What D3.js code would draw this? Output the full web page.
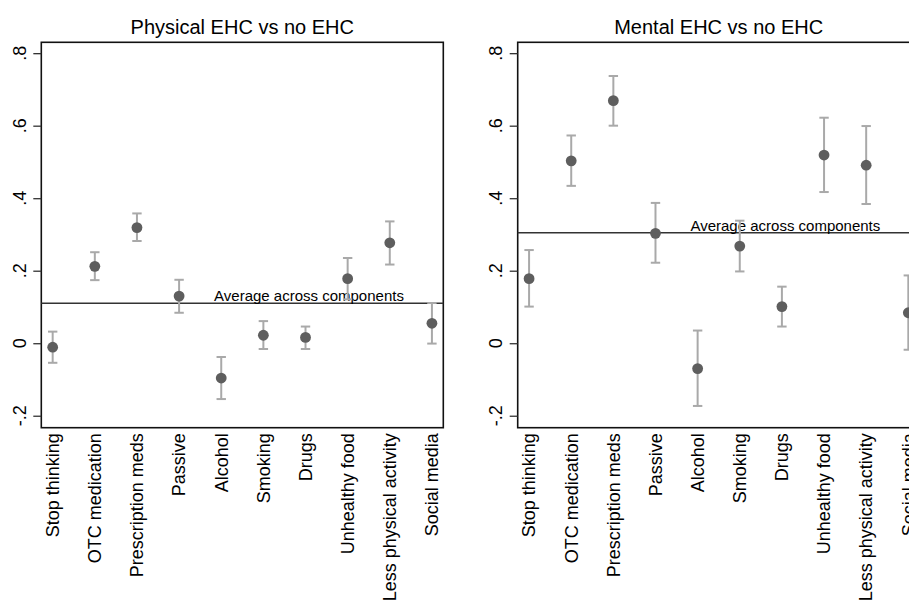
<!DOCTYPE html>
<html>
<head>
<meta charset="utf-8">
<script src="https://cdn.jsdelivr.net/npm/d3@7"></script>
<style>
  html, body { margin: 0; padding: 0; background: #fff; }
  svg { display: block; font-family: "Liberation Sans", Arial, Helvetica, sans-serif; }
</style>
</head>
<body>
<svg id="chart" width="909" height="603"></svg>
<script>
// Health-behaviour components on the x axis
const categories = [
  "Stop thinking", "OTC medication", "Prescription meds", "Passive", "Alcohol",
  "Smoking", "Drugs", "Unhealthy food", "Less physical activity", "Social media"
];

// Physical EHC vs no EHC: estimates with 95% CI bounds
const physicalEst   = [-0.011, 0.212, 0.319, 0.130, -0.096, 0.022, 0.016, 0.178, 0.277, 0.055];
const physicalLower = [-0.054, 0.174, 0.282, 0.084, -0.154, -0.016, -0.016, 0.121, 0.217, -0.001];
const physicalUpper = [0.032, 0.251, 0.358, 0.175, -0.038, 0.061, 0.046, 0.235, 0.336, 0.111];

// Mental EHC vs no EHC: estimates with 95% CI bounds
const mentalEst   = [0.178, 0.503, 0.669, 0.303, -0.070, 0.268, 0.101, 0.519, 0.491, 0.084];
const mentalLower = [0.101, 0.434, 0.600, 0.222, -0.173, 0.198, 0.046, 0.417, 0.384, -0.018];
const mentalUpper = [0.257, 0.573, 0.737, 0.387, 0.035, 0.338, 0.156, 0.622, 0.599, 0.187];

const yTicks = [-0.2, 0, 0.2, 0.4, 0.6, 0.8];
const yTickLabels = ["-.2", "0", ".2", ".4", ".6", ".8"];

const panels = [
  { title: "Physical EHC vs no EHC", est: physicalEst, lo: physicalLower, hi: physicalUpper, left: 41.3 },
  { title: "Mental EHC vs no EHC",   est: mentalEst,   lo: mentalLower,   hi: mentalUpper,   left: 517.7 }
];

const svg = d3.select("#chart");
const plotW = 402, plotTop = 42.3, plotBottom = 427.7;

const y = d3.scaleLinear().domain([-0.233, 0.830]).range([plotBottom, plotTop]);

panels.forEach(p => {
  const g = svg.append("g");
  const x = d3.scalePoint().domain(categories).range([p.left, p.left + plotW]).padding(0.27);
  const rows = categories.map((c, i) => ({ c, est: p.est[i], lo: p.lo[i], hi: p.hi[i] }));

  // plot frame
  g.append("rect")
    .attr("x", p.left).attr("y", plotTop)
    .attr("width", plotW).attr("height", plotBottom - plotTop)
    .attr("fill", "none").attr("stroke", "#111").attr("stroke-width", 1.6);

  // title
  g.append("text")
    .attr("x", p.left + plotW / 2).attr("y", 33.5)
    .attr("text-anchor", "middle")
    .attr("font-size", 20).attr("fill", "#000")
    .text(p.title);

  // y axis ticks and rotated labels
  const yAxis = d3.axisLeft(y).tickValues(yTicks).tickSize(8).tickFormat("");
  const ag = g.append("g").attr("transform", `translate(${p.left},0)`).call(yAxis);
  ag.select(".domain").remove();
  ag.selectAll(".tick line").attr("stroke", "#333").attr("stroke-width", 1.3);
  yTicks.forEach((t, i) => {
    g.append("text")
      .attr("transform", `translate(${p.left - 15.3},${y(t)}) rotate(-90)`)
      .attr("text-anchor", "middle")
      .attr("font-size", 18).attr("fill", "#000")
      .text(yTickLabels[i]);
  });

  // category labels
  categories.forEach(c => {
    g.append("text")
      .attr("transform", `translate(${x(c)},${plotBottom + 5.5}) rotate(-90)`)
      .attr("text-anchor", "end")
      .attr("dy", "0.35em")
      .attr("font-size", 18).attr("fill", "#000")
      .text(c);
  });

  // average across components
  const avg = d3.mean(p.est);
  g.append("line")
    .attr("x1", p.left).attr("x2", p.left + plotW)
    .attr("y1", y(avg)).attr("y2", y(avg))
    .attr("stroke", "#333").attr("stroke-width", 1.6);
  g.append("text")
    .attr("x", x(categories[4]) - 0.17 * x.step())
    .attr("y", y(avg) - 1.8)
    .attr("font-size", 15).attr("fill", "#000")
    .text("Average across components");

  // confidence intervals
  const cap = 4.7;
  const eb = g.append("g").attr("stroke", "#a9a9a9").attr("stroke-width", 2).attr("fill", "none");
  eb.selectAll("line.v").data(rows).join("line").attr("class", "v")
    .attr("x1", d => x(d.c)).attr("x2", d => x(d.c))
    .attr("y1", d => y(d.lo)).attr("y2", d => y(d.hi));
  eb.selectAll("line.t").data(rows).join("line").attr("class", "t")
    .attr("x1", d => x(d.c) - cap).attr("x2", d => x(d.c) + cap)
    .attr("y1", d => y(d.hi)).attr("y2", d => y(d.hi));
  eb.selectAll("line.b").data(rows).join("line").attr("class", "b")
    .attr("x1", d => x(d.c) - cap).attr("x2", d => x(d.c) + cap)
    .attr("y1", d => y(d.lo)).attr("y2", d => y(d.lo));

  // point estimates
  g.append("g").selectAll("circle").data(rows).join("circle")
    .attr("cx", d => x(d.c)).attr("cy", d => y(d.est))
    .attr("r", 5.4).attr("fill", "#5e5e5e");
});
</script>
</body>
</html>
